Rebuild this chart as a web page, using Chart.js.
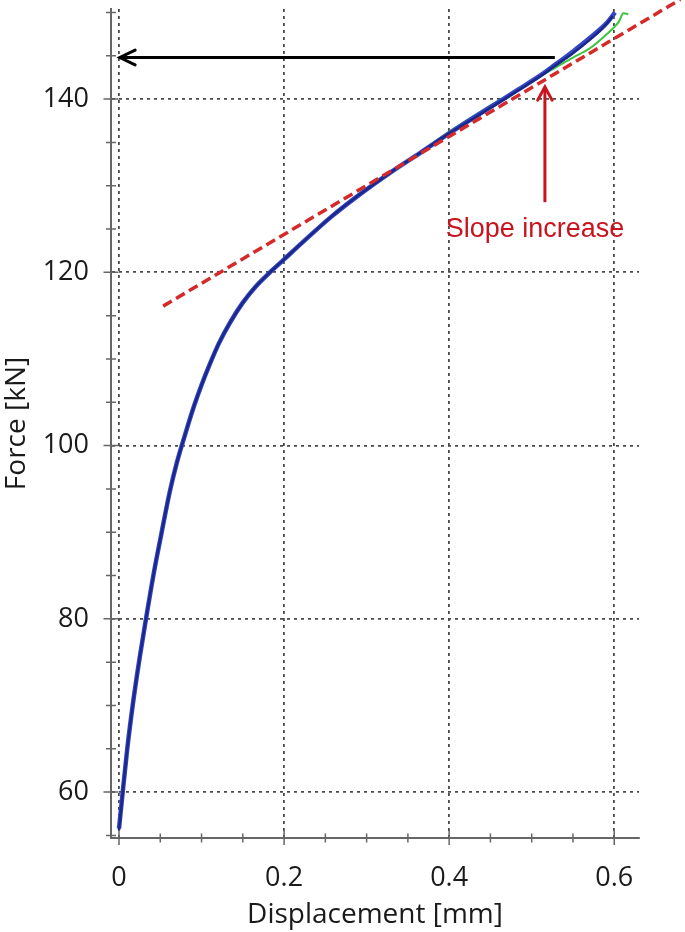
<!DOCTYPE html>
<html>
<head>
<meta charset="utf-8">
<script src="https://cdn.jsdelivr.net/npm/chart.js@4"></script>
<style>
  body { margin: 0; background: #fff; }
  canvas { display: block; }
</style>
</head>
<body>
<canvas id="forceChart" width="685" height="932"></canvas>
<script>
// measured curves (displacement in mm, force in kN)
const dispBlue  = [0.000, 0.0045, 0.010, 0.017, 0.025, 0.0327, 0.0416, 0.0517, 0.0618, 0.070, 0.076, 0.083, 0.091, 0.100, 0.110, 0.121, 0.1345, 0.150, 0.166, 0.184, 0.200, 0.224, 0.257, 0.289, 0.330, 0.365, 0.401, 0.442, 0.482, 0.510, 0.526, 0.550, 0.571, 0.591, 0.601];
const forceBlue = [55.8, 60.0, 65.0, 70.3, 75.5, 80.0, 85.0, 90.0, 94.8, 98.0, 100.0, 102.2, 104.6, 107.0, 109.4, 111.8, 114.2, 116.5, 118.4, 120.1, 121.5, 123.6, 126.4, 128.8, 131.6, 133.8, 136.1, 138.6, 141.0, 142.7, 143.8, 145.5, 147.1, 148.8, 150.0];

const dispNavy  = [0.000, 0.0045, 0.010, 0.017, 0.025, 0.0327, 0.0416, 0.0517, 0.0618, 0.070, 0.076, 0.083, 0.091, 0.100, 0.110, 0.121, 0.1345, 0.150, 0.166, 0.184, 0.200, 0.224, 0.257, 0.289, 0.330, 0.365, 0.401, 0.442, 0.482, 0.510, 0.526, 0.550, 0.571, 0.590, 0.598];
const forceNavy = [55.6, 60.0, 65.0, 70.3, 75.5, 80.0, 85.0, 90.0, 94.8, 98.0, 100.0, 102.2, 104.6, 107.0, 109.4, 111.8, 114.2, 116.5, 118.4, 120.1, 121.5, 123.6, 126.4, 128.8, 131.6, 133.8, 136.1, 138.5, 140.9, 142.6, 143.7, 145.3, 146.9, 148.6, 149.6];

const dispGreen  = [0.000, 0.0045, 0.010, 0.017, 0.025, 0.0327, 0.0416, 0.0517, 0.0618, 0.070, 0.076, 0.083, 0.091, 0.100, 0.110, 0.121, 0.1345, 0.150, 0.166, 0.184, 0.200, 0.224, 0.257, 0.289, 0.330, 0.365, 0.401, 0.442, 0.482, 0.510, 0.526, 0.550, 0.571, 0.591, 0.599, 0.606, 0.611, 0.617];
const forceGreen = [56.0, 60.0, 65.0, 70.3, 75.5, 80.0, 85.0, 90.0, 94.8, 98.0, 100.0, 102.2, 104.6, 107.0, 109.4, 111.8, 114.2, 116.5, 118.4, 120.1, 121.5, 123.6, 126.4, 128.8, 131.6, 133.9, 136.3, 138.8, 141.0, 142.6, 143.5, 144.8, 145.9, 147.5, 148.2, 149.0, 149.9, 149.8];

// tangent line (red dashed)
const dispTangent  = [0.0535, 0.680];
const forceTangent = [116.1, 151.5];

// annotations
const dispArrowBlack  = [0.528, 0.001];
const forceArrowBlack = [144.8, 144.8];
const dispArrowRed  = [0.516, 0.516];
const forceArrowRed = [128.1, 141.4];
const noteText = 'Slope increase';
const noteAt = [0.504, 124.1];

const xTickLabels = ['0', '0.2', '0.4', '0.6'];
const yTickLabels = ['60', '80', '100', '120', '140'];

function pts(xs, ys) {
  return xs.map((x, i) => ({ x: x, y: ys[i] }));
}
function isMajor(v, step) {
  return Math.abs(v / step - Math.round(v / step)) < 1e-6;
}

const decor = {
  id: 'decor',
  afterDatasetsDraw(chart) {
    const ctx = chart.ctx;
    const xs = chart.scales.x, ys = chart.scales.y;
    // arrow heads
    chart.data.datasets.forEach((ds, i) => {
      if (!ds.arrowHead) return;
      const els = chart.getDatasetMeta(i).data;
      const a = els[els.length - 2], b = els[els.length - 1];
      const ang = Math.atan2(b.y - a.y, b.x - a.x);
      const len = ds.arrowHead.len, spread = ds.arrowHead.spread;
      ctx.save();
      ctx.strokeStyle = ds.borderColor;
      ctx.lineWidth = ds.borderWidth;
      ctx.lineCap = 'round';
      ctx.lineJoin = 'miter';
      ctx.beginPath();
      ctx.moveTo(b.x - len * Math.cos(ang - spread), b.y - len * Math.sin(ang - spread));
      ctx.lineTo(b.x, b.y);
      ctx.lineTo(b.x - len * Math.cos(ang + spread), b.y - len * Math.sin(ang + spread));
      ctx.stroke();
      ctx.restore();
    });
    // note
    ctx.save();
    ctx.font = '27px "Liberation Sans", Arial, sans-serif';
    ctx.fillStyle = '#c8141e';
    ctx.textAlign = 'center';
    ctx.textBaseline = 'alphabetic';
    ctx.fillText(noteText, xs.getPixelForValue(noteAt[0]), ys.getPixelForValue(noteAt[1]));
    ctx.restore();
  },
  afterDraw(chart) {
    // tick marks crossing the axes
    const ctx = chart.ctx;
    const xs = chart.scales.x, ys = chart.scales.y;
    const area = chart.chartArea;
    ctx.save();
    ctx.strokeStyle = '#666';
    ctx.lineWidth = 1.5;
    ctx.beginPath();
    xs.ticks.forEach(t => {
      const px = xs.getPixelForValue(t.value);
      const h = isMajor(t.value, 0.2) ? 7 : 4.5;
      ctx.moveTo(px, area.bottom - h);
      ctx.lineTo(px, area.bottom + h);
    });
    ys.ticks.forEach(t => {
      const py = ys.getPixelForValue(t.value);
      const h = isMajor(t.value, 20) ? 7.5 : 5;
      ctx.moveTo(area.left - h, py);
      ctx.lineTo(area.left + h, py);
    });
    ctx.stroke();
    ctx.restore();
  }
};

const lineBase = { pointRadius: 0, fill: false, cubicInterpolationMode: 'monotone' };

new Chart(document.getElementById('forceChart'), {
  type: 'line',
  data: {
    datasets: [
      Object.assign({}, lineBase, { data: pts(dispArrowBlack, forceArrowBlack), borderColor: '#000', borderWidth: 3,
        arrowHead: { len: 17, spread: 0.45 }, order: 0, cubicInterpolationMode: 'default' }),
      Object.assign({}, lineBase, { data: pts(dispArrowRed, forceArrowRed), borderColor: '#c8141e', borderWidth: 3,
        arrowHead: { len: 15, spread: 0.5 }, order: 0, cubicInterpolationMode: 'default' }),
      Object.assign({}, lineBase, { data: pts(dispTangent, forceTangent), borderColor: '#d62a2a', borderWidth: 3.5,
        borderDash: [10, 5], clip: false, order: 1 }),
      Object.assign({}, lineBase, { data: pts(dispNavy, forceNavy), borderColor: '#1b2889', borderWidth: 2.5, order: 2 }),
      Object.assign({}, lineBase, { data: pts(dispBlue, forceBlue), borderColor: '#3447c4', borderWidth: 4.5, order: 3 }),
      Object.assign({}, lineBase, { data: pts(dispGreen, forceGreen), borderColor: '#3cc43c', borderWidth: 2, order: 4 })
    ]
  },
  options: {
    responsive: false,
    animation: false,
    layout: { padding: { top: 9, right: 46, left: 0, bottom: 0 } },
    plugins: { legend: { display: false }, tooltip: { enabled: false } },
    scales: {
      x: {
        type: 'linear',
        min: -0.0097,
        max: 0.630,
        afterFit: s => { s.height = 94; s.paddingLeft = 0; s.paddingRight = 0; },
        ticks: {
          stepSize: 0.05,
          includeBounds: false,
          autoSkip: false,
          maxRotation: 0,
          padding: 24,
          color: '#1a1a1a',
          font: { family: '"Open Sans", sans-serif', size: 27 },
          callback: v => isMajor(v, 0.2) ? xTickLabels[Math.round(v / 0.2)] : ''
        },
        grid: {
          drawTicks: false,
          lineWidth: 1.8,
          color: c => (c.tick && isMajor(c.tick.value, 0.2)) ? '#4a4a4a' : 'rgba(0,0,0,0)'
        },
        border: { display: true, color: '#666', width: 2, dash: [3, 4] },
        title: {
          display: true,
          text: 'Displacement [mm]',
          color: '#1a1a1a',
          font: { family: '"Open Sans", sans-serif', size: 28 },
          padding: 0
        }
      },
      y: {
        type: 'linear',
        min: 54.7,
        max: 150.4,
        afterFit: s => { s.width = 111; s.paddingTop = 0; s.paddingBottom = 0; },
        ticks: {
          stepSize: 5,
          includeBounds: false,
          autoSkip: false,
          padding: 22,
          color: '#1a1a1a',
          font: { family: '"Open Sans", sans-serif', size: 27 },
          callback: v => isMajor(v, 20) ? yTickLabels[Math.round((v - 60) / 20)] : ''
        },
        grid: {
          drawTicks: false,
          lineWidth: 1.8,
          color: c => (c.tick && isMajor(c.tick.value, 20)) ? '#4a4a4a' : 'rgba(0,0,0,0)'
        },
        border: { display: true, color: '#666', width: 2, dash: [3, 4] },
        title: {
          display: true,
          text: 'Force [kN]',
          color: '#1a1a1a',
          font: { family: '"Open Sans", sans-serif', size: 28 },
          padding: 0
        }
      }
    }
  },
  plugins: [decor]
});
</script>
</body>
</html>
